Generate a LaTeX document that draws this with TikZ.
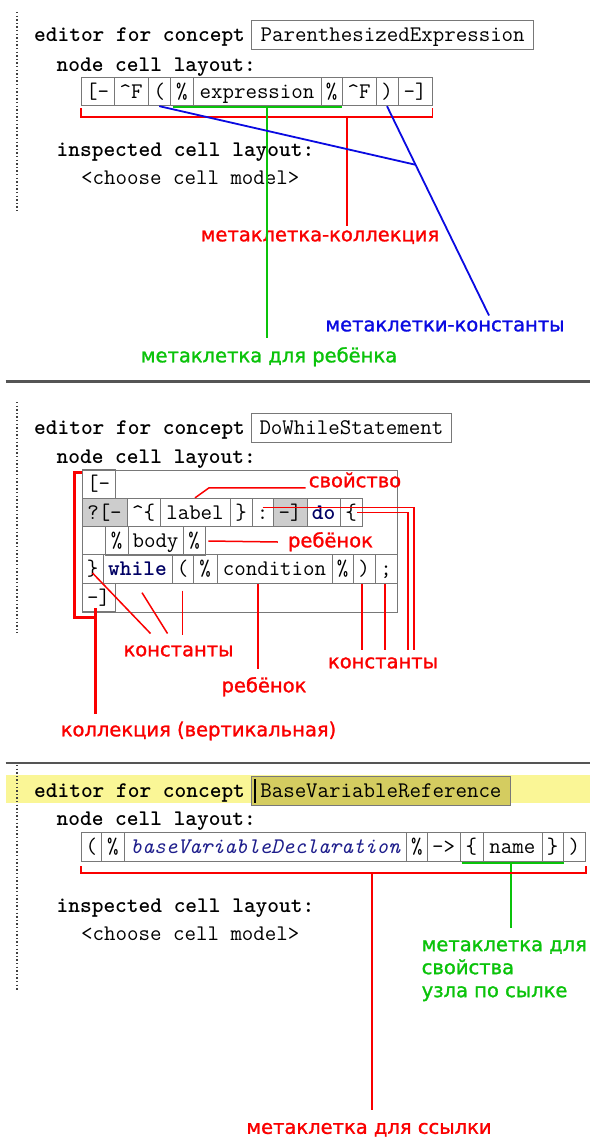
\documentclass[tikz,border=0pt]{standalone}
\usepackage{fontspec}
\newfontfamily\notefont[FakeBold=1.3]{DejaVu Sans}
\definecolor{notered}{RGB}{250, 0, 0}
\definecolor{notegreen}{RGB}{10, 195, 10}
\definecolor{noteblue}{RGB}{10, 10, 225}
\definecolor{cellgray}{RGB}{120, 120, 120}
\definecolor{selgray}{RGB}{205, 205, 205}
\definecolor{kwnavy}{RGB}{0, 0, 100}
\definecolor{refnavy}{RGB}{30, 30, 140}
\definecolor{rulegray}{RGB}{85, 85, 85}
\definecolor{selyellow}{RGB}{250, 246, 150}
\definecolor{boxolive}{RGB}{212, 204, 96}
\usetikzlibrary{
    positioning,
    calc
}
\newcommand\edfont{\fontsize{22.3}{26}\selectfont\ttfamily}
\newcommand\notesize{\fontsize{19.5}{23}\selectfont\notefont}

\begin{document}
\begin{tikzpicture}[x=1pt, y=-1pt,
    edtext/.style={font=\edfont, inner sep=0pt, text height=13.5pt, text depth=0pt},
    edbold/.style={edtext, font=\edfont\bfseries, anchor=west},
    edcell/.style={edtext, draw=cellgray, line width=0.8pt, minimum height=28.5pt},
    selcell/.style={edcell, fill=selgray},
    kwcell/.style={edcell, font=\edfont\bfseries, text=kwnavy},
    refcell/.style={edcell, font=\edfont\itshape, text=refnavy},
    namebox/.style={edtext, draw=cellgray, line width=1pt, minimum height=29pt},
    notetext/.style={font=\notesize, inner sep=0pt},
    note/.style={notetext, text height=10.6pt, text depth=0pt},
    redline/.style={notered, line width=1.8pt},
    redthin/.style={notered, line width=1.5pt},
    redthick/.style={notered, line width=2.4pt},
    greenline/.style={notegreen, line width=2pt},
    blueline/.style={noteblue, line width=1.8pt},
    gutter/.style={black!75, line width=1.3pt, dash pattern=on 1.4pt off 2.2pt},
    rule/.style={rulegray, line width=2.6pt}]
    \fill[white] (0,0) rectangle (590,1137);
    \useasboundingbox (0,0) rectangle (590,1137);

    % ParenthesizedExpression
    \draw[gutter] (17,12) -- (17,212);
    \node[edbold] (ed1) at (34,35) {editor for concept};
    \node[namebox, minimum width=282pt, right=6pt of ed1] (pebox) {ParenthesizedExpression};
    \node[edbold] (ncl1) at (56.5,64.5) {node cell layout:};
    \foreach \nm/\xa/\xb/\txt in {
        pe-lb/81/114/{[-},
        pe-f1/114/148/{\textasciicircum F},
        pe-op/148/170.5/{(},
        pe-p1/170.5/193/{\%},
        pe-ex/193/321/{expression},
        pe-p2/321/342/{\%},
        pe-f2/342/376/{\textasciicircum F},
        pe-cp/376/398/{)},
        pe-rb/398/432/{-]}} {
        \node[edcell, minimum width={(\xb-\xa)*1pt}] (\nm) at ({(\xa+\xb)/2},91.5) {\txt};
    }
    \node[edbold] (icl1) at (56.5,149.5) {inspected cell layout:};
    \node[edtext, anchor=west] (ccm1) at (81,178) {<choose cell model>};

    % collection bracket
    \draw[redline] ([yshift=-2pt]pe-lb.south west) -- ++(0,-9pt) -| ([yshift=-2pt]pe-rb.south east);
    \coordinate (pe-ctap) at (347,117);
    \node[note, text=notered] (pe-coll) at (320,236) {метаклетка-коллекция};
    \draw[redline] (pe-ctap) -- ([yshift=5pt]pe-ctap |- pe-coll.north);

    % child cell
    \draw[greenline] ([xshift=2.5pt,yshift=-1pt]pe-p1.south west) -- ([yshift=-1pt]pe-p2.south east);
    \coordinate (pe-gtap) at (266.5,107);
    \node[note, text=notegreen] (pe-child) at (269,357) {метаклетка для ребёнка};
    \draw[greenline] (pe-gtap) -- ([yshift=14pt]pe-gtap |- pe-child.north);

    % constants
    \node[note, text=noteblue] (pe-const) at (445,326) {метаклетки-константы};
    \coordinate (pe-bend) at ([xshift=44pt,yshift=5pt]pe-const.north);
    \coordinate (pe-bjoin) at ($(pe-cp.south)!0.28!(pe-bend)$);
    \draw[blueline] (pe-cp.south) -- (pe-bend);
    \draw[blueline] (pe-op.south) -- (pe-bjoin);

    \draw[rule] (5.6,381.5) -- (590,381.5);

    % DoWhileStatement
    \draw[gutter] (17,402) -- (17,633);
    \node[edbold] (ed2) at (34,428) {editor for concept};
    \node[namebox, minimum width=199.5pt, right=6pt of ed2] (dwbox) {DoWhileStatement};
    \node[edbold] (ncl2) at (56.5,457) {node cell layout:};
    \node[draw=cellgray, line width=0.8pt, minimum width=315pt, minimum height=142pt, inner sep=0pt] (dw-frame) at (239.5,541) {};
    \foreach \nm/\xa/\xb/\yc/\st/\txt in {
        dw-lb/82/115/484/edcell/{[-},
        dw-q/82/127/512.5/selcell/{?[-},
        dw-hat/127/160/512.5/edcell/{\textasciicircum\{},
        dw-lab/160/230/512.5/edcell/{label},
        dw-rbr/230/252/512.5/edcell/{\}},
        dw-col/252/273/512.5/edcell/{:},
        dw-sel/273/307/512.5/selcell/{-]},
        dw-do/307/340/512.5/kwcell/{do},
        dw-lbr/340/362/512.5/edcell/{\{},
        dw-p1/105/128/541/edcell/{\%},
        dw-body/128/183/541/edcell/{body},
        dw-p2/183/205/541/edcell/{\%},
        dw-rb/82/103/569/edcell/{\}},
        dw-wh/103/172/569/kwcell/{while},
        dw-lp/172/193/569/edcell/{(},
        dw-p3/193/217/569/edcell/{\%},
        dw-cond/217/332/569/edcell/{condition},
        dw-p4/332/353/569/edcell/{\%},
        dw-rp/353/375/569/edcell/{)},
        dw-sc/375/397/569/edcell/{;},
        dw-rbk/82/115/597.5/edcell/{-]}} {
        \node[\st, minimum width={(\xb-\xa)*1pt}] (\nm) at ({(\xa+\xb)/2},\yc) {\txt};
    }

    % labels
    \node[note, text=notered] (dw-prop) at (355,482) {свойство};
    \node[note, text=notered] (dw-child) at (330.5,542) {ребёнок};
    \node[note, text=notered] (dw-const1) at (178.5,651) {константы};
    \node[note, text=notered] (dw-const2) at (383,663) {константы};
    \node[note, text=notered] (dw-child2) at (264,687) {ребёнок};
    \node[note, text=notered] (dw-coll) at (198.5,731) {коллекция (вертикальная)};

    \draw[redthin, shorten >=3pt] (dw-lab.north) -- ++(14pt,10pt) coordinate (dw-pk) -- (dw-pk -| dw-prop.west);
    \draw[redthin] ([xshift=3pt]dw-p2.east) -- ([xshift=-10pt]dw-child.west);
    \draw[redthin] ([yshift=-4pt]dw-rb.center) -- ([xshift=-28pt,yshift=12pt]dw-const1.north);
    \draw[redthin] ([xshift=4.5pt,yshift=-9pt]dw-wh.south) -- ([xshift=-11pt,yshift=12pt]dw-const1.north);
    \draw[redthin] ([yshift=-7pt]dw-lp.south) -- ([yshift=11pt]dw-lp.south |- dw-const1.north);
    \draw[redthin] (dw-cond.south) ++(-16.5pt,0) coordinate (dw-ct) -- ([yshift=13pt]dw-ct |- dw-child2.north);
    \draw[redthin] ([xshift=-2pt]dw-rp.south) -- ([xshift=-2pt,yshift=8pt]dw-rp.south |- dw-const2.north);
    \draw[redthin] ([xshift=-1pt]dw-sc.south) -- ([xshift=-1pt,yshift=8pt]dw-sc.south |- dw-const2.north);
    \draw[redthin] ([yshift=5pt]dw-col.center) -| ([xshift=31pt,yshift=8pt]dw-const2.north);
    \draw[redthin] ([xshift=6pt]dw-lbr.center) -| ([xshift=25pt,yshift=8pt]dw-const2.north);

    % vertical collection
    \draw[redthick] ([yshift=-3pt]dw-frame.north west) -- ++(-7pt,0) |- ([xshift=14pt,yshift=-5pt]dw-frame.south west) coordinate (dw-ctap) -- ++(0,9pt);
    \draw[redthick] (dw-ctap) -- ([yshift=12pt]dw-ctap |- dw-coll.north);

    \draw[rule] (5.6,763) -- (590,763);

    % BaseVariableReference
    \fill[selyellow] (5.6,775) rectangle (590,803);
    \draw[gutter] (17,765) -- (17,990);
    \node[edbold] (ed3) at (34,791) {editor for concept};
    \node[namebox, fill=boxolive, minimum width=258.5pt, right=6pt of ed3] (bvbox) {BaseVariableReference};
    \draw[line width=1.8pt] ([xshift=4pt,yshift=-3pt]bvbox.north west) -- ([xshift=4pt,yshift=3pt]bvbox.south west);
    \node[edbold] (ncl3) at (56.5,819) {node cell layout:};
    \foreach \nm/\xa/\xb/\st/\txt in {
        bv-lp/81/101.6/edcell/{(},
        bv-p1/101.6/124.2/edcell/{\%},
        bv-decl/124.2/406.5/refcell/{baseVariableDeclaration},
        bv-p2/406.5/427.2/edcell/{\%},
        bv-arr/427.2/459.9/edcell/{->},
        bv-lb/459.9/482.9/edcell/{\{},
        bv-name/482.9/542/edcell/{name},
        bv-rb/542/563.4/edcell/{\}},
        bv-rp/563.4/585.2/edcell/{)}} {
        \node[\st, minimum width={(\xb-\xa)*1pt}, minimum height=29.5pt] (\nm) at ({(\xa+\xb)/2},847) {\txt};
    }
    \node[edbold] (icl3) at (56.5,906) {inspected cell layout:};
    \node[edtext, anchor=west] (ccm3) at (81,933.5) {<choose cell model>};

    % property of referenced node
    \draw[greenline] ([xshift=2pt,yshift=-1pt]bv-lb.south west) -- ([yshift=-1pt]bv-rb.south east);
    \node[notetext, text=notegreen, align=left, anchor=north west] (bv-prop) at (421.5,940) {метаклетка для\\свойства\\узла по сылке};
    \draw[greenline] ([xshift=-1.5pt,yshift=-1pt]bv-name.south) -- ([xshift=-1.5pt,yshift=12pt]bv-name.south |- bv-prop.north);

    % reference cell
    \draw[redline] ([yshift=-4pt]bv-lp.south west) -- ++(0,-7pt) -| ([yshift=-4pt]bv-rp.south east);
    \coordinate (bv-tap) at (372,873);
    \node[note, text=notered] (bv-ref) at (369,1128.5) {метаклетка для ссылки};
    \draw[redline] (bv-tap) -- ([yshift=13pt]bv-tap |- bv-ref.north);
\end{tikzpicture}
\end{document}
